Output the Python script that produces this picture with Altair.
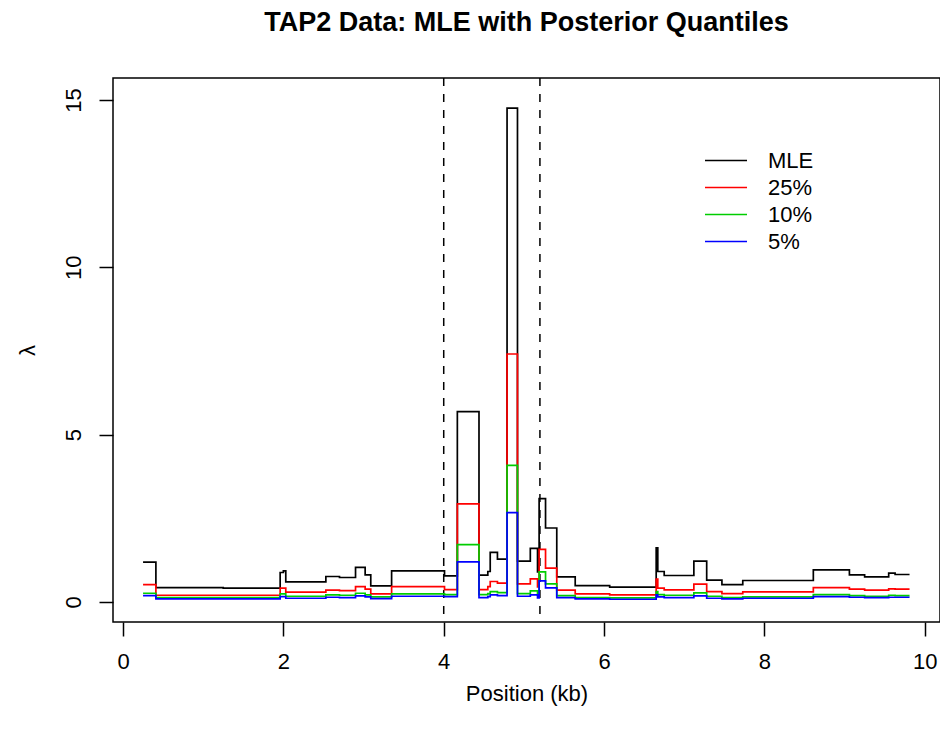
import altair as alt
import pandas as pd

# Segment start positions (kb) of the piecewise-constant estimates
pos = [0.25, 0.41, 1.25, 1.96, 2.00, 2.03, 2.53, 2.70, 2.90, 3.02,
       3.09, 3.35, 4.01, 4.17, 4.44, 4.55, 4.58, 4.67, 4.79, 4.92,
       5.08, 5.17, 5.19, 5.27, 5.41, 5.64, 6.07, 6.65, 6.67, 6.75,
       7.12, 7.28, 7.47, 7.73, 8.61, 9.06, 9.25, 9.55, 9.63]
pos_end = 9.81

mle = [1.19, 0.43, 0.41, 0.88, 0.93, 0.60, 0.76, 0.73, 1.03, 0.81,
       0.48, 0.93, 0.78, 5.69, 0.80, 0.91, 1.48, 1.28, 14.76, 1.22,
       1.60, 0.90, 3.09, 2.21, 0.75, 0.49, 0.44, 1.62, 0.91, 0.79,
       1.22, 0.65, 0.52, 0.64, 0.96, 0.81, 0.75, 0.86, 0.82]
q25 = [0.52, 0.20, 0.20, 0.41, 0.41, 0.29, 0.35, 0.34, 0.46, 0.38,
       0.24, 0.46, 0.37, 2.93, 0.37, 0.46, 0.61, 0.56, 7.41, 0.54,
       0.69, 0.45, 1.57, 1.01, 0.35, 0.24, 0.21, 0.68, 0.41, 0.36,
       0.53, 0.31, 0.25, 0.30, 0.43, 0.38, 0.35, 0.39, 0.38]
q10 = [0.26, 0.13, 0.13, 0.24, 0.24, 0.17, 0.21, 0.20, 0.26, 0.21,
       0.15, 0.24, 0.22, 1.71, 0.22, 0.25, 0.31, 0.28, 4.08, 0.25,
       0.33, 0.20, 0.90, 0.54, 0.19, 0.13, 0.12, 0.31, 0.22, 0.20,
       0.27, 0.17, 0.13, 0.15, 0.22, 0.19, 0.17, 0.20, 0.19]
q05 = [0.19, 0.09, 0.09, 0.16, 0.16, 0.11, 0.14, 0.13, 0.18, 0.15,
       0.10, 0.17, 0.16, 1.20, 0.13, 0.16, 0.21, 0.19, 2.67, 0.17,
       0.21, 0.12, 0.63, 0.42, 0.13, 0.09, 0.08, 0.21, 0.15, 0.13,
       0.18, 0.11, 0.09, 0.11, 0.16, 0.14, 0.13, 0.14, 0.14]

series_names = ["MLE", "25%", "10%", "5%"]
series_colors = ["#000000", "#FF0000", "#00CD00", "#0000FF"]
dashed_at = [4.0, 5.2]
x_ticks = [0, 2, 4, 6, 8, 10]
y_ticks = [0, 5, 10, 15]

rows = []
for k, (name, vals) in enumerate(zip(series_names, [mle, q25, q10, q05])):
    xs = pos + [pos_end]
    vs = vals + [vals[-1]]
    for x, v in zip(xs, vs):
        rows.append({"pos": x, "lam": v, "series": name, "k": k})
df = pd.DataFrame(rows)
vdf = pd.DataFrame({"pos": dashed_at})

FONT = "Liberation Sans"

xscale = alt.Scale(domain=[-0.125, 10.19], nice=False, zero=False)
yscale = alt.Scale(domain=[-0.6, 15.66], nice=False, zero=False)

lines = alt.Chart(df).mark_line(interpolate="step-after", strokeWidth=1.7).encode(
    x=alt.X("pos:Q", scale=xscale,
            axis=alt.Axis(values=x_ticks, title="Position (kb)", format="d")),
    y=alt.Y("lam:Q", scale=yscale,
            axis=alt.Axis(values=y_ticks, title="λ", format="d")),
    color=alt.Color("series:N",
                    scale=alt.Scale(domain=series_names, range=series_colors),
                    legend=alt.Legend(title=None)),
    order=alt.Order("k:Q"),
)

rules = alt.Chart(vdf).mark_rule(color="black", strokeWidth=1.5, strokeDash=[8, 8]).encode(
    x=alt.X("pos:Q", scale=xscale)
)

chart = alt.layer(rules, lines).properties(
    width=827,
    height=544,
    padding={"left": 113, "top": 78, "right": 0, "bottom": 114},
    autosize=alt.AutoSizeParams(type="none"),
    background="white",
    title=alt.TitleParams(
        "TAP2 Data: MLE with Posterior Quantiles",
        font=FONT, fontSize=27, fontWeight="bold", color="black",
        anchor="middle", offset=40,
    ),
).configure_view(
    stroke="black", strokeWidth=1.5
).configure_axis(
    domain=False, grid=False,
    ticks=True, tickColor="black", tickSize=14, tickWidth=1.5,
    labelFont=FONT, labelFontSize=22, labelColor="black",
    titleFont=FONT, titleFontSize=22, titleFontWeight="normal", titleColor="black",
).configure_axisX(
    labelPadding=15, titlePadding=11,
).configure_axisY(
    labelAngle=270, labelPadding=14, titlePadding=23,
).configure_legend(
    orient="none", legendX=591, legendY=69, padding=0,
    symbolType="stroke", symbolSize=1764, symbolStrokeWidth=1.7,
    labelFont=FONT, labelFontSize=22, labelColor="black",
    labelOffset=20, rowPadding=0, clipHeight=27,
)

chart.save("out.html", embed_options={"renderer": "svg", "actions": False})
